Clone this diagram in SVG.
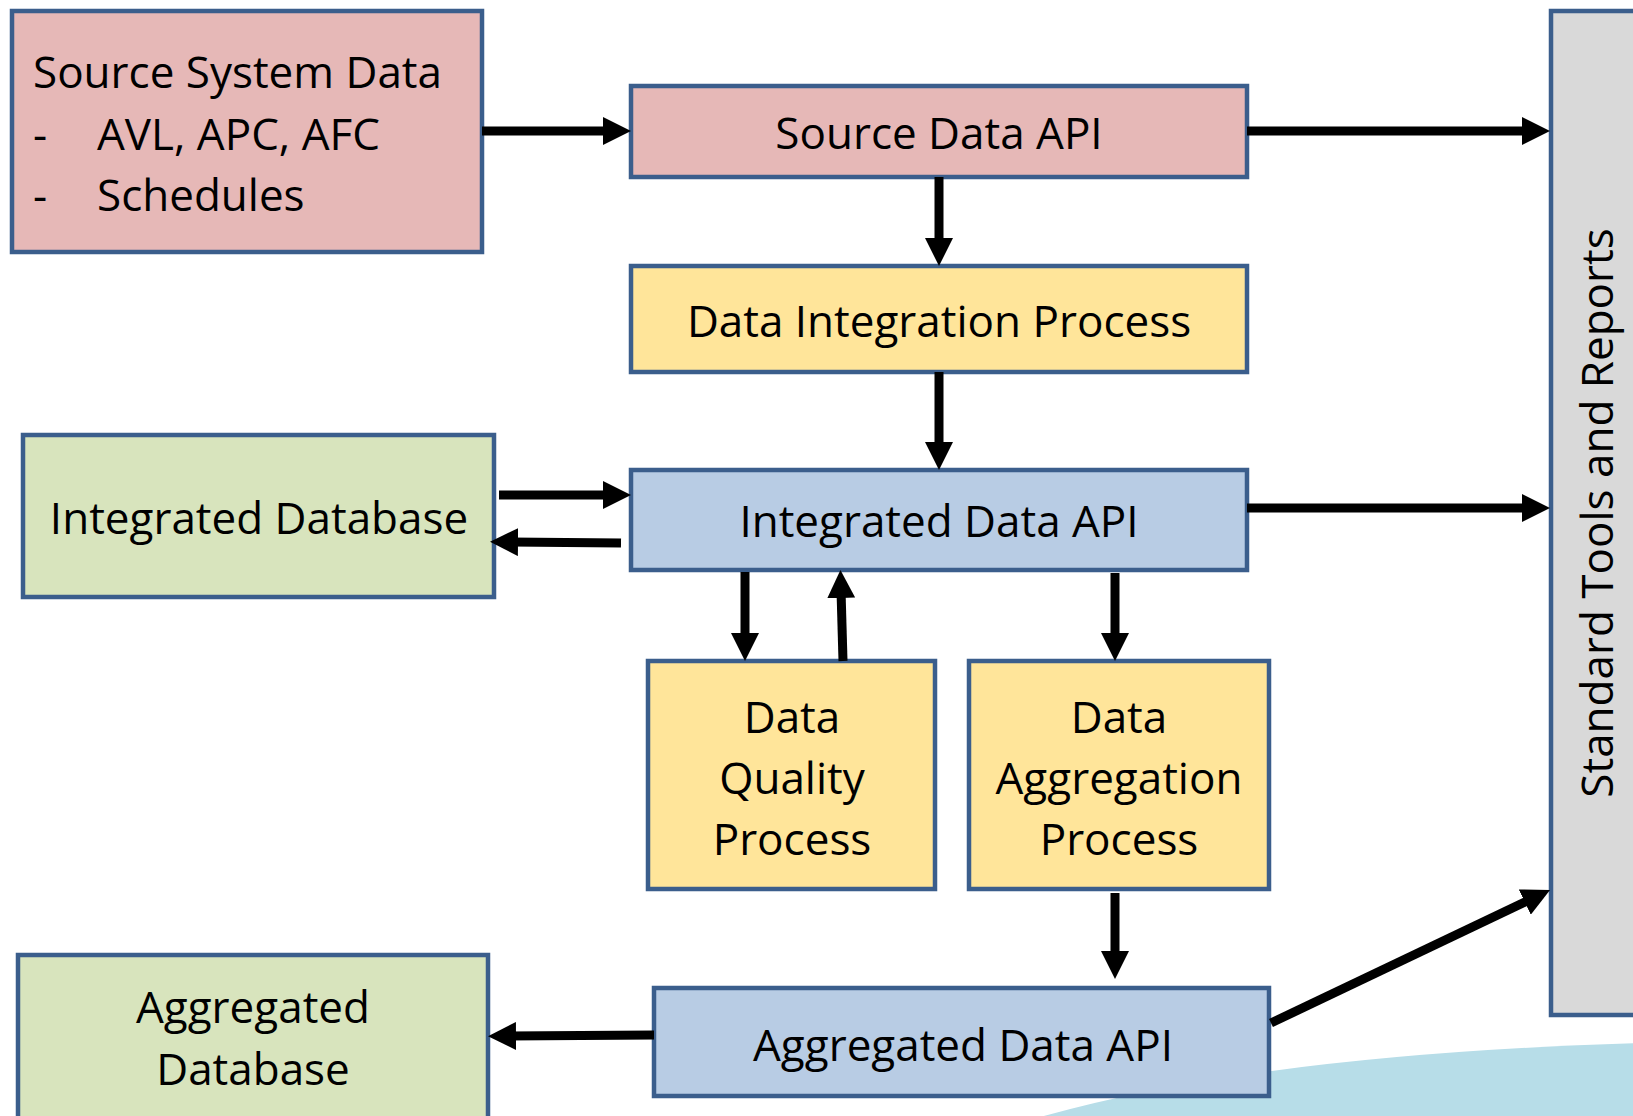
<svg xmlns="http://www.w3.org/2000/svg" width="1633" height="1116" viewBox="0 0 1633 1116">
<style>
.box{stroke:#3B5E8C;stroke-width:4.5}
.pink{fill:#E6B8B7}
.yellow{fill:#FFE59A}
.blue{fill:#B8CCE4}
.green{fill:#D8E4BD}
.gray{fill:#D9D9D9}
text{font-family:"Open Sans","Liberation Sans",sans-serif;font-size:44px;fill:#000}
.c{text-anchor:middle}
.conn line{stroke:#000;stroke-width:9;marker-end:url(#ah)}
</style>
<defs>
<marker id="ah" markerUnits="userSpaceOnUse" markerWidth="28" markerHeight="28" refX="8" refY="14" orient="auto">
<path d="M0,0 L28,14 L0,28 Z" fill="#000"/>
</marker>
</defs>
<rect width="1633" height="1116" fill="#FFFFFF"/>
<path id="wave" d="M1030,1120 Q1250,1055 1640,1043 L1640,1120 Z" fill="#B7DDE8"/>
<g id="source-system-data">
<rect class="box pink" x="12" y="11" width="470" height="241"/>
<text x="33" y="88">Source System Data</text>
<text x="33" y="150">-</text><text x="97" y="150">AVL, APC, AFC</text>
<text x="33" y="211">-</text><text x="97" y="211">Schedules</text>
</g>
<g id="source-data-api">
<rect class="box pink" x="631" y="86" width="616" height="91"/>
<text class="c" x="939" y="149">Source Data API</text>
</g>
<g id="data-integration-process">
<rect class="box yellow" x="631" y="266" width="616" height="106"/>
<text class="c" x="939" y="337">Data Integration Process</text>
</g>
<g id="integrated-database">
<rect class="box green" x="23" y="435" width="471" height="162"/>
<text class="c" x="259" y="534">Integrated Database</text>
</g>
<g id="integrated-data-api">
<rect class="box blue" x="631" y="470" width="616" height="100"/>
<text class="c" x="939" y="537">Integrated Data API</text>
</g>
<g id="data-quality-process">
<rect class="box yellow" x="648" y="661" width="287" height="228"/>
<text class="c" x="792" y="733">Data</text>
<text class="c" x="792" y="794">Quality</text>
<text class="c" x="792" y="855">Process</text>
</g>
<g id="data-aggregation-process">
<rect class="box yellow" x="969" y="661" width="300" height="228"/>
<text class="c" x="1119" y="733">Data</text>
<text class="c" x="1119" y="794">Aggregation</text>
<text class="c" x="1119" y="855">Process</text>
</g>
<g id="aggregated-database">
<rect class="box green" x="18" y="955" width="470" height="175"/>
<text class="c" x="253" y="1023">Aggregated</text>
<text class="c" x="253" y="1085">Database</text>
</g>
<g id="aggregated-data-api">
<rect class="box blue" x="654" y="988" width="615" height="108"/>
<text class="c" x="963" y="1061">Aggregated Data API</text>
</g>
<g id="standard-tools-and-reports">
<rect class="box gray" x="1551" y="11" width="100" height="1004"/>
<text class="c" transform="translate(1613,513) rotate(-90)">Standard Tools and Reports</text>
</g>
<g id="connectors" class="conn">
<line x1="482" y1="131" x2="611" y2="131"/>
<line x1="1247" y1="131" x2="1530" y2="131"/>
<line x1="939" y1="177" x2="939" y2="246"/>
<line x1="939" y1="372" x2="939" y2="450"/>
<line x1="499" y1="495" x2="611" y2="495"/>
<line x1="621" y1="543" x2="510" y2="542"/>
<line x1="745" y1="572" x2="745" y2="641"/>
<line x1="843" y1="661" x2="841" y2="590"/>
<line x1="1115" y1="573" x2="1115" y2="641"/>
<line x1="1247" y1="508" x2="1530" y2="508"/>
<line x1="1115" y1="893" x2="1115" y2="959"/>
<line x1="654" y1="1035" x2="508" y2="1036"/>
<line x1="1271" y1="1023" x2="1532" y2="898.6"/>
</g>
</svg>
